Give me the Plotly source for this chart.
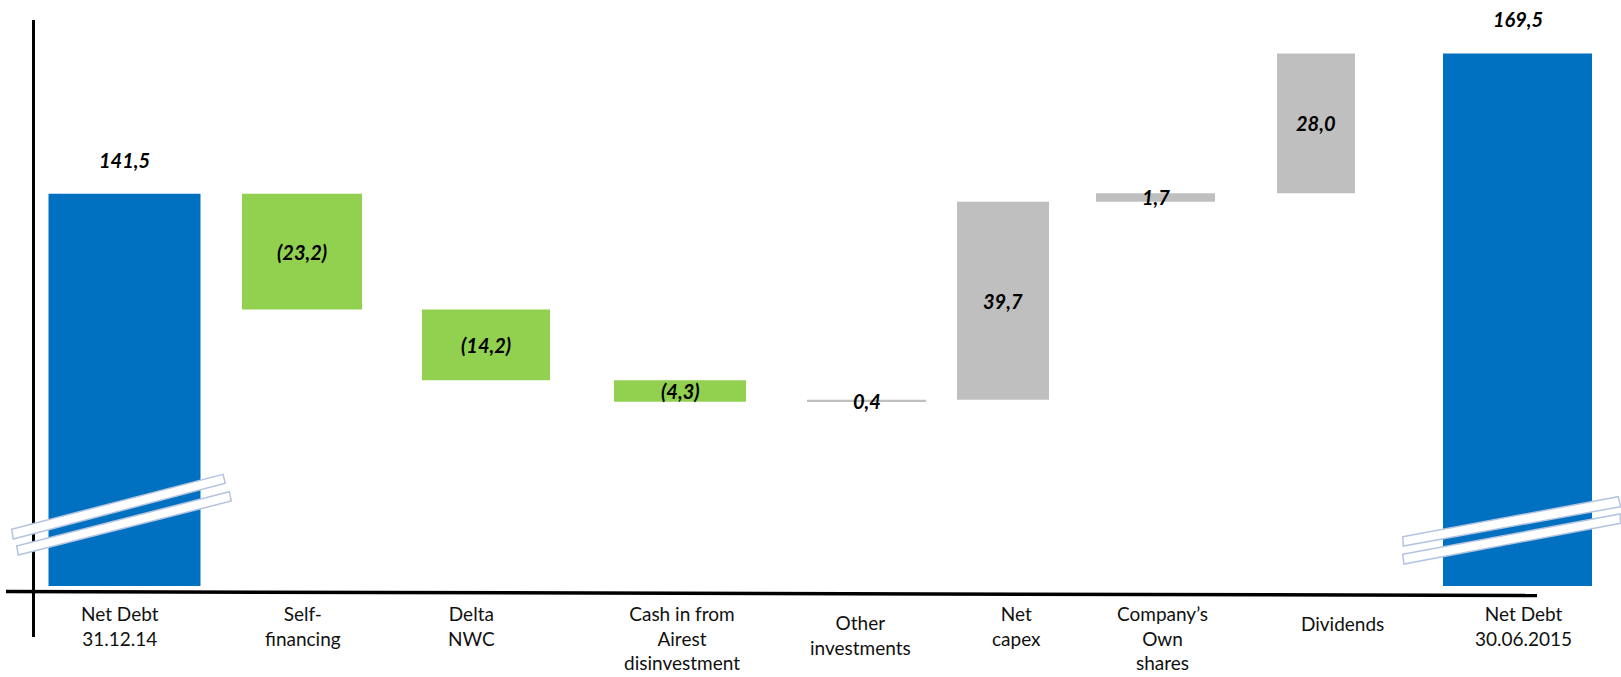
import plotly.graph_objects as go

# ---------------- data ----------------
categories = ["Net Debt<br>31.12.14", "Self-<br>financing", "Delta<br>NWC",
              "Cash in from<br>Airest<br>disinvestment", "Other<br>investments",
              "Net<br>capex", "Company’s<br>Own<br>shares", "Dividends",
              "Net Debt<br>30.06.2015"]
measures = ["absolute", "relative", "relative", "relative", "relative",
            "relative", "relative", "relative", "total"]
values = [141.5, -23.2, -14.2, -4.3, 0.4, 39.7, 1.7, 28.0, 169.5]
value_labels = ["141,5", "(23,2)", "(14,2)", "(4,3)", "0,4", "39,7", "1,7", "28,0", "169,5"]

# ---------------- layout (pixel-like x positions, widths) ----------------
bar_x = [124.5, 302, 486, 680, 866.5, 1003, 1155.5, 1316, 1517.5]
bar_w = [152, 120, 128, 132, 119, 92, 119, 78, 149]
label_x = [120, 303, 471, 682, 860, 1016, 1162, 1342, 1523]
label_dy = [0, 0, 0, 0, -9, 0, 0, -10, 0]

W, H = 1621, 677
PLOT_BOTTOM = 586  # px

BLUE = "#0070C0"
GREEN = "#92D050"
GREY = "#BFBFBF"

fig = go.Figure()
fig.add_trace(go.Waterfall(
    x=bar_x, y=values, measure=measures, width=bar_w,
    increasing=dict(marker=dict(color=GREY)),
    decreasing=dict(marker=dict(color=GREEN)),
    totals=dict(marker=dict(color=BLUE)),
    connector=dict(visible=False),
    textinfo="none", hoverinfo="skip", showlegend=False,
))

# value labels: computed from running totals
running = 0.0
for i, (m, v, lab) in enumerate(zip(measures, values, value_labels)):
    if m == "absolute":
        base, top = 0.0, v
        running = v
        inside = False
    elif m == "total":
        base, top = 0.0, running
        inside = False
    else:
        base, top = running, running + v
        running = top
        inside = True
    if inside:
        y = (base + top) / 2
        shift = 0
    else:
        y = top
        shift = 34
    fig.add_annotation(x=bar_x[i], y=y, xref="x", yref="y", text=f"<b><i>{lab}</i></b>",
                       showarrow=False, yshift=shift,
                       font=dict(family="Lato", size=20, color="#000000"))

# category labels
for i, c in enumerate(categories):
    fig.add_annotation(x=label_x[i], y=0, xref="x", yref="paper", text=c,
                       showarrow=False, yanchor="top", yshift=-14 + label_dy[i],
                       align="center",
                       font=dict(family="Lato", size=19, color="#111111"))


def py(p):
    return (PLOT_BOTTOM - p) / PLOT_BOTTOM


def path(pts):
    s = "M " + " L ".join(f"{x},{py(y):.5f}" for x, y in pts) + " Z"
    return s

# axis lines
fig.add_shape(type="line", xref="x", yref="paper", x0=33.5, x1=33.5, y0=py(20), y1=py(637),
              line=dict(color="#000000", width=3))
fig.add_shape(type="line", xref="x", yref="paper", x0=6, x1=1537, y0=py(591.5), y1=py(595.5),
              line=dict(color="#000000", width=3.5))

# axis break markers
bands = [
    [(11.7, 529.3), (223, 474.3), (225.3, 483.3), (13.3, 539)],
    [(16.7, 546), (229.3, 491.7), (231.3, 501), (18.3, 555)],
    [(1402.7, 536.7), (1618.3, 496.7), (1620.7, 506.7), (1403.3, 546)],
    [(1402.7, 554.3), (1620, 514), (1620.7, 523.3), (1404, 564)],
]
for b in bands:
    fig.add_shape(type="path", xref="x", yref="paper", path=path(b),
                  fillcolor="#FFFFFF", line=dict(color="#B4C4E0", width=1.5))

fig.update_layout(
    width=W, height=H,
    margin=dict(l=0, r=0, t=0, b=H - PLOT_BOTTOM),
    paper_bgcolor="white", plot_bgcolor="white",
    showlegend=False,
    xaxis=dict(visible=False, range=[0, W], fixedrange=True),
    yaxis=dict(visible=False, range=[62.9, 180.3], fixedrange=True),
)

fig.write_html("out.html")
